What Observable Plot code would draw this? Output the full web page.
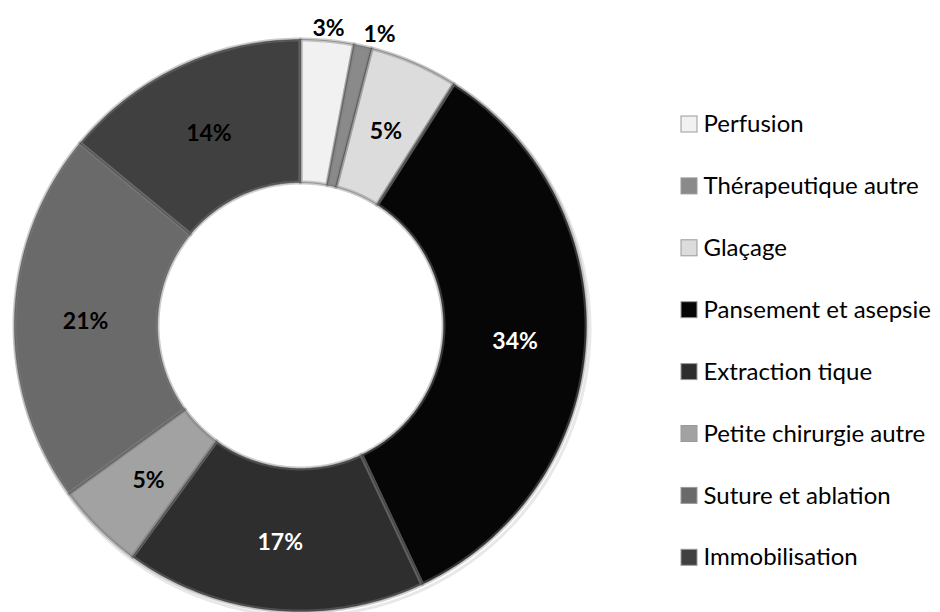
<!DOCTYPE html>
<html>
<head>
<meta charset="utf-8">
<script src="https://cdn.jsdelivr.net/npm/d3@7"></script>
<script src="https://cdn.jsdelivr.net/npm/@observablehq/plot@0.6"></script>
<style>
  html, body { margin: 0; padding: 0; background: #fff; }
  #chart { width: 940px; height: 612px; }
</style>
</head>
<body>
<div id="chart"></div>
<script>
// ---- data ----
const categories = ["Perfusion", "Thérapeutique autre", "Glaçage", "Pansement et asepsie",
                    "Extraction tique", "Petite chirurgie autre", "Suture et ablation", "Immobilisation"];
const values = [3, 1, 5, 34, 17, 5, 21, 14];
const labels = ["3%", "1%", "5%", "34%", "17%", "5%", "21%", "14%"];
const colors = ["#f1f1f1", "#8a8a8a", "#dcdcdc", "#060606", "#2e2e2e", "#a2a2a2", "#6a6a6a", "#404040"];

// ---- layout constants ----
const W = 940, H = 612;
const cx = 300, cy = 325, R = 286, R0 = 143;
const labelR = 215, outsideR = 298;

const data = categories.map((c, i) => ({category: c, value: values[i], label: labels[i], color: colors[i]}));
const arcs = d3.pie().sort(null).value(d => d.value)(data);

function ringPolygon(a0, a1, rOut, rIn, category) {
  const n = Math.max(4, Math.ceil((a1 - a0) / (Math.PI / 180)));
  const out = [];
  for (let k = 0; k <= n; k++) {
    const t = a0 + (a1 - a0) * k / n;
    out.push({category, x: cx + rOut * Math.sin(t), y: cy - rOut * Math.cos(t)});
  }
  for (let k = n; k >= 0; k--) {
    const t = a0 + (a1 - a0) * k / n;
    out.push({category, x: cx + rIn * Math.sin(t), y: cy - rIn * Math.cos(t)});
  }
  return out;
}

const slicePts = arcs.flatMap(a => ringPolygon(a.startAngle, a.endAngle, R, R0, a.data.category));

const labelPts = arcs.map(a => {
  const mid = (a.startAngle + a.endAngle) / 2;
  const outside = a.data.value < 4;
  const rr = outside ? outsideR : labelR;
  const l = d3.hsl(a.data.color).l;
  return {
    label: a.data.label,
    x: cx + rr * Math.sin(mid) + (outside && a.index === 1 ? 14 : 0),
    y: cy - rr * Math.cos(mid) + (outside ? 0 : 3),
    light: l < 0.22
  };
});

const legendRows = categories.map((c, i) => ({category: c, y: 124 + i * 61.9}));

const plot = Plot.plot({
  width: W,
  height: H,
  margin: 0,
  style: {fontFamily: "Lato, 'Open Sans', sans-serif", background: "#fff"},
  x: {domain: [0, W], range: [0, W], axis: null},
  y: {domain: [0, H], range: [0, H], axis: null},
  color: {domain: categories, range: colors},
  marks: [
    // soft outer shadow
    Plot.line(ringPolygon(0, 2 * Math.PI, R + 3, R, "shadow"), {
      x: d => d.x + 2, y: d => d.y + 3, z: "category", fill: "#bdbdbd", fillOpacity: 0.35,
      stroke: "none", curve: "linear-closed"
    }),
    // slices
    Plot.line(slicePts, {x: "x", y: "y", z: "category", fill: "category", stroke: "none", curve: "linear-closed"}),
    // bevel-like edges
    Plot.line(slicePts, {x: "x", y: "y", z: "category", fill: "none", stroke: "#7f7f7f",
      strokeOpacity: 0.4, strokeWidth: 4, curve: "linear-closed"}),
    Plot.line(slicePts, {x: "x", y: "y", z: "category", fill: "none", stroke: "#222",
      strokeOpacity: 0.3, strokeWidth: 1, curve: "linear-closed"}),
    // slice labels
    Plot.text(labelPts.filter(d => !d.light), {x: "x", y: "y", text: "label", fill: "#000",
      fontSize: 23, fontWeight: "bold"}),
    Plot.text(labelPts.filter(d => d.light), {x: "x", y: "y", text: "label", fill: "#fff",
      fontSize: 23, fontWeight: "bold"}),
    // legend
    Plot.rect(legendRows, {x1: 681, x2: 697, y1: d => d.y - 8, y2: d => d.y + 8,
      fill: "category", stroke: "#9a9a9a", strokeWidth: 1}),
    Plot.text(legendRows, {x: 703, y: "y", text: "category", textAnchor: "start",
      fill: "#000", fontSize: 24})
  ]
});

document.getElementById("chart").appendChild(plot);
</script>
</body>
</html>
